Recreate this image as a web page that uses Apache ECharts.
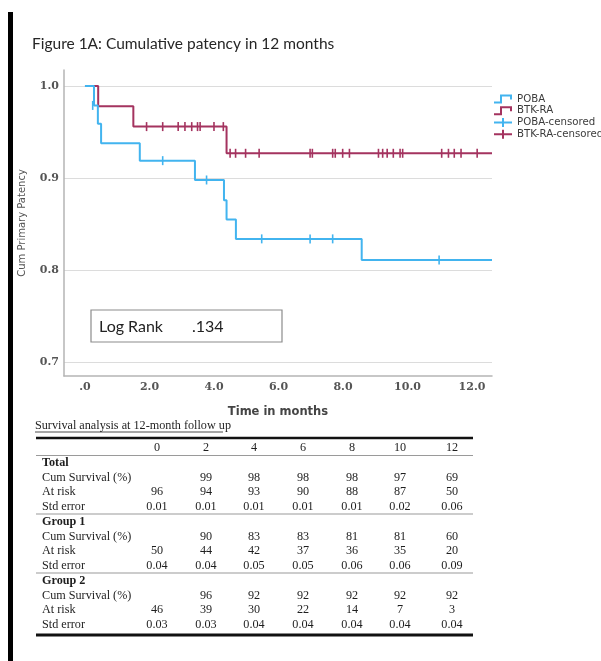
<!DOCTYPE html>
<html>
<head>
<meta charset="utf-8">
<script src="https://cdn.jsdelivr.net/npm/echarts@6/dist/echarts.min.js"></script>
<style>
  html, body { margin: 0; padding: 0; background: #fff; }
  #chart { width: 601px; height: 661px; }
</style>
</head>
<body>
<div id="chart"></div>
<script>
// Kaplan-Meier step points (months, cumulative patency)
const pobaTime = [0, 0.28, 0.4, 0.5, 1.7, 3.41, 4.31, 4.39, 4.68, 8.58, 12.62]
const pobaSurv = [1.0, 0.979, 0.959, 0.938, 0.919, 0.898, 0.876, 0.855, 0.834, 0.811, 0.811]
const btkTime = [0, 0.41, 1.5, 4.39, 12.62]
const btkSurv = [1.0, 0.978, 0.956, 0.927, 0.927]

// censored cases
const pobaCensTime = [0.24, 2.41, 3.77, 5.48, 6.98, 7.68, 10.98]
const pobaCensSurv = [0.979, 0.919, 0.898, 0.834, 0.834, 0.834, 0.811]
const btkCensTime = [1.91, 2.41, 2.89, 3.1, 3.31, 3.49, 3.57, 4.0, 4.29,
  4.5, 4.67, 4.98, 5.4, 6.98, 7.05, 7.68, 7.76, 7.99, 8.2,
  9.1, 9.23, 9.37, 9.56, 9.77, 9.85, 11.06, 11.27, 11.45, 11.66, 12.16]
const btkCensSurv = [0.956, 0.956, 0.956, 0.956, 0.956, 0.956, 0.956, 0.956, 0.956,
  0.927, 0.927, 0.927, 0.927, 0.927, 0.927, 0.927, 0.927, 0.927, 0.927,
  0.927, 0.927, 0.927, 0.927, 0.927, 0.927, 0.927, 0.927, 0.927, 0.927, 0.927]

// axis ticks
const yTicks = [0.7, 0.8, 0.9, 1.0]
const xTicks = [0, 2, 4, 6, 8, 10, 12]
const logRankP = '.134'

// survival table
const tableTimes = [0, 2, 4, 6, 8, 10, 12]
const totalCumSurv = [null, 99, 98, 98, 98, 97, 69]
const totalAtRisk = [96, 94, 93, 90, 88, 87, 50]
const totalStdErr = [0.01, 0.01, 0.01, 0.01, 0.01, 0.02, 0.06]
const g1CumSurv = [null, 90, 83, 83, 81, 81, 60]
const g1AtRisk = [50, 44, 42, 37, 36, 35, 20]
const g1StdErr = [0.04, 0.04, 0.05, 0.05, 0.06, 0.06, 0.09]
const g2CumSurv = [null, 96, 92, 92, 92, 92, 92]
const g2AtRisk = [46, 39, 30, 22, 14, 7, 3]
const g2StdErr = [0.03, 0.03, 0.04, 0.04, 0.04, 0.04, 0.04]

const BLUE = '#42b4ef'
const RED = '#a4335f'
const zip = (a, b) => a.map((v, i) => [v, b[i]])

// legend icons
const stepIcon = 'path://M0,7 L6,7 L6,0 L18,0 L18,5 L16,5 L16,2 L8,2 L8,9 L0,9 Z'
const plusIcon = 'path://M0,3.5 L18,3.5 L18,5.5 L0,5.5 Z M8,0 L10,0 L10,9 L8,9 Z'

// ---- table layout (graphic texts) ----
const serif = '"Liberation Serif", "Times New Roman", serif'
const colX = [157, 206, 254, 303, 352, 400, 452]
const labelX = 42
const graphics = []

function txt(x, y, s, opts = {}) {
  graphics.push({
    type: 'text', x, y, silent: true,
    style: {
      text: s,
      font: opts.font || ('12.2px ' + serif),
      fill: opts.fill || '#1e1e1e',
      align: opts.align || 'center',
      textAlign: opts.align || 'center',
      verticalAlign: 'middle',
      textVerticalAlign: 'middle',
    },
  })
}
function hline(x1, x2, y, w, color) {
  graphics.push({
    type: 'line', silent: true,
    shape: { x1, y1: y, x2, y2: y },
    style: { stroke: color, lineWidth: w },
  })
}

function tableBlock(title, y0, cum, risk, err) {
  const rh = 14.6
  txt(labelX, y0, title, { align: 'left', font: 'bold 12.2px ' + serif })
  txt(labelX, y0 + rh, 'Cum Survival (%)', { align: 'left' })
  txt(labelX, y0 + rh * 2, 'At risk', { align: 'left' })
  txt(labelX, y0 + rh * 3, 'Std error', { align: 'left' })
  colX.forEach((x, i) => {
    if (cum[i] != null) txt(x, y0 + rh, String(cum[i]))
    txt(x, y0 + rh * 2, String(risk[i]))
    txt(x, y0 + rh * 3, err[i].toFixed(2))
  })
}

// left black bar
graphics.push({ type: 'rect', silent: true, shape: { x: 8, y: 12, width: 5, height: 660 }, style: { fill: '#000' } })
// figure title
txt(32, 44, 'Figure 1A: Cumulative patency in 12 months', { align: 'left', font: '15.5px Lato, "Open Sans", sans-serif', fill: '#262626' })
// log rank box
graphics.push({ type: 'rect', silent: true, shape: { x: 91, y: 310, width: 191, height: 32 }, style: { fill: 'none', stroke: '#8c8c8c', lineWidth: 1.2 } })
txt(99, 327, 'Log Rank', { align: 'left', font: '16px Lato, "Open Sans", sans-serif', fill: '#222' })
txt(192, 327, logRankP, { align: 'left', font: '16px Lato, "Open Sans", sans-serif', fill: '#222' })

// table
txt(35, 426, 'Survival analysis at 12-month follow up', { align: 'left', font: '12.2px ' + serif })
hline(35, 223, 432, 0.8, '#222')
hline(36, 473, 438, 2.6, '#111')
colX.forEach((x, i) => txt(x, 448, String(tableTimes[i])))
hline(36, 473, 455.5, 1.2, '#9a9a9a')
tableBlock('Total', 463, totalCumSurv, totalAtRisk, totalStdErr)
hline(36, 473, 514, 1.2, '#9a9a9a')
tableBlock('Group 1', 522, g1CumSurv, g1AtRisk, g1StdErr)
hline(36, 473, 573, 1.2, '#9a9a9a')
tableBlock('Group 2', 581, g2CumSurv, g2AtRisk, g2StdErr)
hline(36, 473, 635, 3, '#111')

const options = {
  animation: false,
  backgroundColor: '#fff',
  grid: { left: 64, right: 109, top: 70, bottom: 285, containLabel: false },
  legend: {
    orient: 'vertical',
    left: 494,
    top: 93,
    padding: 0,
    itemWidth: 18,
    itemHeight: 9,
    itemGap: 0,
    textStyle: { fontSize: 10.2, lineHeight: 11.8, color: '#3c3c3c', fontFamily: '"DejaVu Sans", sans-serif' },
    data: [
      { name: 'POBA', icon: stepIcon, itemStyle: { color: BLUE } },
      { name: 'BTK-RA', icon: stepIcon, itemStyle: { color: RED } },
      { name: 'POBA-censored', icon: plusIcon, itemStyle: { color: BLUE } },
      { name: 'BTK-RA-censored', icon: plusIcon, itemStyle: { color: RED } },
    ],
  },
  xAxis: {
    type: 'value',
    min: -0.65,
    max: 12.62,
    name: 'Time in months',
    nameLocation: 'middle',
    nameGap: 30,
    nameTextStyle: { fontSize: 11.5, fontWeight: 'bold', color: '#444', fontFamily: '"DejaVu Sans", sans-serif' },
    axisLine: { show: true, onZero: false, lineStyle: { color: '#b5b5b5', width: 1.5 } },
    axisTick: { show: false, customValues: xTicks },
    splitLine: { show: false },
    axisLabel: {
      customValues: xTicks,
      margin: 6,
      fontSize: 11,
      fontWeight: 'bold',
      color: '#555',
      fontFamily: '"DejaVu Serif", serif',
      formatter: (v) => (v === 0 ? '.0' : v.toFixed(1)),
    },
  },
  yAxis: {
    type: 'value',
    min: 0.685,
    max: 1.0175,
    name: 'Cum Primary Patency',
    nameLocation: 'middle',
    nameGap: 37,
    nameTextStyle: { fontSize: 10, color: '#555', fontFamily: '"DejaVu Sans", sans-serif' },
    axisLine: { show: true, onZero: false, lineStyle: { color: '#b5b5b5', width: 1.5 } },
    axisTick: { show: false, customValues: yTicks },
    splitLine: { show: true, lineStyle: { color: '#dcdcdc', width: 1.2 } },
    axisLabel: {
      customValues: yTicks,
      margin: 5,
      fontSize: 11,
      fontWeight: 'bold',
      color: '#555',
      fontFamily: '"DejaVu Serif", serif',
      formatter: (v) => v.toFixed(1),
    },
  },
  series: [
    {
      name: 'POBA', type: 'line', step: 'end', showSymbol: false,
      data: zip(pobaTime, pobaSurv),
      lineStyle: { color: BLUE, width: 2 }, itemStyle: { color: BLUE }, z: 3,
    },
    {
      name: 'BTK-RA', type: 'line', step: 'end', showSymbol: false,
      data: zip(btkTime, btkSurv),
      lineStyle: { color: RED, width: 2 }, itemStyle: { color: RED }, z: 2,
    },
    {
      name: 'POBA-censored', type: 'scatter', symbol: 'rect', symbolSize: [1.6, 9],
      data: zip(pobaCensTime, pobaCensSurv),
      itemStyle: { color: BLUE, opacity: 1 }, z: 4,
    },
    {
      name: 'BTK-RA-censored', type: 'scatter', symbol: 'rect', symbolSize: [1.6, 9],
      data: zip(btkCensTime, btkCensSurv),
      itemStyle: { color: RED, opacity: 1 }, z: 4,
    },
  ],
  graphic: graphics,
}

const chart = echarts.init(document.getElementById('chart'), null, { renderer: 'canvas' })
chart.setOption(options)
</script>
</body>
</html>
